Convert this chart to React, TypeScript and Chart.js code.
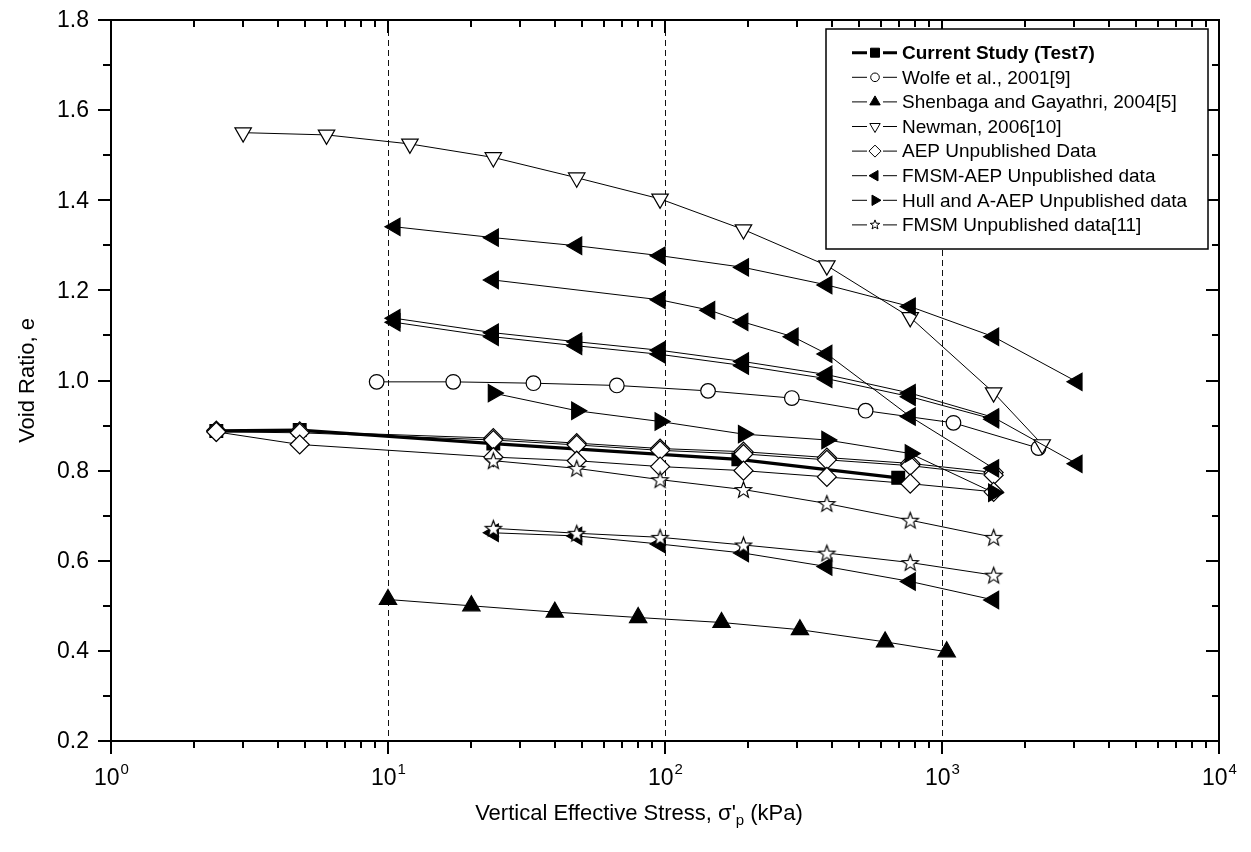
import React, { useEffect, useRef } from 'react';
import { Chart, registerables } from 'chart.js';
Chart.register(...registerables);

const FONT = '"Liberation Sans", Arial, Helvetica, sans-serif';

// ---- data ----
const currentX = [2.4, 4.8, 24, 184, 695];
const currentY = [0.888, 0.89, 0.86, 0.825, 0.784];

const wolfeX = [9.1, 17.2, 33.5, 67, 143, 287, 530, 1100, 2230];
const wolfeY = [0.997, 0.997, 0.994, 0.989, 0.977, 0.961, 0.933, 0.906, 0.85];

const shenbagaX = [10, 20, 40, 80, 160, 307, 623, 1040];
const shenbagaY = [0.514, 0.5, 0.486, 0.474, 0.463, 0.447, 0.42, 0.398];

const newmanX = [3, 6, 12, 24, 48, 96, 192, 384, 768, 1536, 2300];
const newmanY = [1.55, 1.545, 1.525, 1.495, 1.45, 1.403, 1.335, 1.255, 1.14, 0.973, 0.858];

const aepX = [2.4, 4.8, 24, 48, 96, 192, 384, 768, 1536];
const aepAY = [0.889, 0.887, 0.872, 0.861, 0.849, 0.842, 0.829, 0.816, 0.796];
const aepBY = [0.886, 0.884, 0.868, 0.857, 0.845, 0.837, 0.824, 0.811, 0.79];
const aepCY = [0.886, 0.858, 0.83, 0.822, 0.809, 0.8, 0.786, 0.771, 0.753];

const fmsmAepAX = [10.6, 24, 48, 96, 192, 384, 768, 1536, 3072];
const fmsmAepAY = [1.341, 1.317, 1.299, 1.277, 1.251, 1.212, 1.164, 1.097, 0.997];
const fmsmAepBX = [24, 96, 145, 191, 290, 384, 768, 1536];
const fmsmAepBY = [1.223, 1.179, 1.156, 1.13, 1.097, 1.059, 0.92, 0.805];
const fmsmAepCX = [10.6, 24, 48, 96, 192, 384, 768, 1536, 3072];
const fmsmAepCY = [1.138, 1.106, 1.086, 1.067, 1.042, 1.013, 0.972, 0.918, 0.815];
const fmsmAepDX = [10.6, 24, 48, 96, 192, 384, 768, 1536];
const fmsmAepDY = [1.129, 1.097, 1.077, 1.058, 1.033, 1.004, 0.964, 0.914];
const fmsmAepEX = [24, 48, 96, 192, 384, 768, 1536];
const fmsmAepEY = [0.662, 0.655, 0.637, 0.617, 0.587, 0.554, 0.513];

const hullX = [24, 48, 96, 192, 384, 768, 1536];
const hullY = [0.972, 0.933, 0.909, 0.881, 0.868, 0.838, 0.751];

const fmsmX = [24, 48, 96, 192, 384, 768, 1536];
const fmsmAY = [0.822, 0.805, 0.78, 0.758, 0.727, 0.69, 0.652];
const fmsmBY = [0.672, 0.661, 0.652, 0.635, 0.617, 0.596, 0.568];

// ---- axes ----
const xTickExps = [0, 1, 2, 3, 4];
const xGridLines = [10, 100, 1000];
const yTickValues = [0.2, 0.4, 0.6, 0.8, 1.0, 1.2, 1.4, 1.6, 1.8];
const yTickLabels = ['0.2', '0.4', '0.6', '0.8', '1.0', '1.2', '1.4', '1.6', '1.8'];
const yMinorValues = [0.3, 0.5, 0.7, 0.9, 1.1, 1.3, 1.5, 1.7];
const yTitle = 'Void Ratio, e';
const xTitleMain = "Vertical Effective Stress, \u03c3'";
const xTitleSub = 'p';
const xTitleEnd = ' (kPa)';

const legendLabels = [
  'Current Study (Test7)',
  'Wolfe et al., 2001[9]',
  'Shenbaga and Gayathri, 2004[5]',
  'Newman, 2006[10]',
  'AEP Unpublished Data',
  'FMSM-AEP Unpublished data',
  'Hull and A-AEP Unpublished data',
  'FMSM Unpublished data[11]',
];
const legendMarkers = ['square', 'circle', 'triUp', 'triDown', 'diamond', 'triLeft', 'triRight', 'star'];
const legendFilled = [true, false, true, false, false, true, true, false];

function starPath(ctx: CanvasRenderingContext2D, cx: number, cy: number, R: number, r: number) {
  ctx.beginPath();
  for (let i = 0; i < 10; i++) {
    const ang = -Math.PI / 2 + (i * Math.PI) / 5;
    const rr = i % 2 === 0 ? R : r;
    const px = cx + Math.cos(ang) * rr;
    const py = cy + Math.sin(ang) * rr;
    if (i === 0) ctx.moveTo(px, py);
    else ctx.lineTo(px, py);
  }
  ctx.closePath();
}

function makeStar(R: number, lw: number) {
  const c = document.createElement('canvas');
  const size = Math.ceil(2 * R + 4);
  c.width = size;
  c.height = size;
  const g = c.getContext('2d')!;
  starPath(g, size / 2, size / 2 + 0.8, R, R * 0.42);
  g.fillStyle = '#fff';
  g.fill();
  g.lineWidth = lw;
  g.strokeStyle = '#000';
  g.stroke();
  return c;
}

function drawMarker(ctx: CanvasRenderingContext2D, kind: string, x: number, y: number, r: number, filled: boolean) {
  const c30 = Math.cos(Math.PI / 6);
  ctx.beginPath();
  switch (kind) {
    case 'circle':
      ctx.arc(x, y, r, 0, Math.PI * 2);
      break;
    case 'square':
      ctx.rect(x - r, y - r, 2 * r, 2 * r);
      break;
    case 'diamond':
      ctx.moveTo(x - r, y); ctx.lineTo(x, y - r); ctx.lineTo(x + r, y); ctx.lineTo(x, y + r); ctx.closePath();
      break;
    case 'triUp':
      ctx.moveTo(x, y - r); ctx.lineTo(x + r * c30, y + r / 2); ctx.lineTo(x - r * c30, y + r / 2); ctx.closePath();
      break;
    case 'triDown':
      ctx.moveTo(x, y + r); ctx.lineTo(x + r * c30, y - r / 2); ctx.lineTo(x - r * c30, y - r / 2); ctx.closePath();
      break;
    case 'triLeft':
      ctx.moveTo(x - r, y); ctx.lineTo(x + r / 2, y - r * c30); ctx.lineTo(x + r / 2, y + r * c30); ctx.closePath();
      break;
    case 'triRight':
      ctx.moveTo(x + r, y); ctx.lineTo(x - r / 2, y - r * c30); ctx.lineTo(x - r / 2, y + r * c30); ctx.closePath();
      break;
    case 'star':
      starPath(ctx, x, y, r, r * 0.42);
      break;
  }
  ctx.fillStyle = filled ? '#000' : '#fff';
  ctx.fill();
  ctx.lineWidth = 1;
  ctx.strokeStyle = '#000';
  ctx.stroke();
}

const decoPlugin = {
  id: 'deco',
  beforeDatasetsDraw(chart: any) {
    const { ctx, chartArea: a } = chart;
    const xs = chart.scales.x;
    ctx.save();
    ctx.setLineDash([6, 4]);
    ctx.strokeStyle = '#111';
    ctx.lineWidth = 1;
    xGridLines.forEach((v) => {
      const px = Math.round(xs.getPixelForValue(v)) + 0.5;
      ctx.beginPath();
      ctx.moveTo(px, a.top);
      ctx.lineTo(px, a.bottom);
      ctx.stroke();
    });
    ctx.restore();
  },
  afterDraw(chart: any) {
    const { ctx, chartArea: a } = chart;
    const xs = chart.scales.x;
    const ys = chart.scales.y;
    ctx.save();
    ctx.strokeStyle = '#000';
    ctx.fillStyle = '#000';
    ctx.lineWidth = 2;
    ctx.strokeRect(a.left, a.top, a.right - a.left, a.bottom - a.top);

    const MAJ = 13;
    const MIN = 7;
    ctx.lineWidth = 2;
    ctx.beginPath();
    xTickExps.forEach((e) => {
      const px = Math.round(xs.getPixelForValue(Math.pow(10, e)));
      ctx.moveTo(px, a.bottom); ctx.lineTo(px, a.bottom + MAJ);
      ctx.moveTo(px, a.top); ctx.lineTo(px, a.top + MAJ);
    });
    for (let d = 0; d < 4; d++) {
      for (let m = 2; m <= 9; m++) {
        const px = Math.round(xs.getPixelForValue(m * Math.pow(10, d)));
        ctx.moveTo(px, a.bottom); ctx.lineTo(px, a.bottom + MIN);
        ctx.moveTo(px, a.top); ctx.lineTo(px, a.top + MIN);
      }
    }
    yTickValues.forEach((v) => {
      const py = Math.round(ys.getPixelForValue(v));
      ctx.moveTo(a.left - MAJ, py); ctx.lineTo(a.left, py);
      ctx.moveTo(a.right - MAJ, py); ctx.lineTo(a.right, py);
    });
    yMinorValues.forEach((v) => {
      const py = Math.round(ys.getPixelForValue(v));
      ctx.moveTo(a.left - 8, py); ctx.lineTo(a.left, py);
      ctx.moveTo(a.right - MIN, py); ctx.lineTo(a.right, py);
    });
    ctx.stroke();

    // y tick labels
    ctx.font = `23px ${FONT}`;
    ctx.textAlign = 'right';
    ctx.textBaseline = 'middle';
    yTickValues.forEach((v, i) => {
      ctx.fillText(yTickLabels[i], a.left - 22, ys.getPixelForValue(v) + 1);
    });

    // x tick labels with superscript
    ctx.textAlign = 'left';
    ctx.textBaseline = 'alphabetic';
    xTickExps.forEach((e) => {
      const px = xs.getPixelForValue(Math.pow(10, e));
      ctx.font = `23px ${FONT}`;
      const w1 = ctx.measureText('10').width;
      ctx.font = `15px ${FONT}`;
      const w2 = ctx.measureText(String(e)).width;
      const start = px - (w1 + w2) / 2;
      ctx.font = `23px ${FONT}`;
      ctx.fillText('10', start, a.bottom + 44);
      ctx.font = `15px ${FONT}`;
      ctx.fillText(String(e), start + w1 + 1, a.bottom + 33);
    });

    // x title
    ctx.font = `22px ${FONT}`;
    const wm = ctx.measureText(xTitleMain).width;
    const we = ctx.measureText(xTitleEnd).width;
    ctx.font = `15px ${FONT}`;
    const ws = ctx.measureText(xTitleSub).width;
    const total = wm + ws + we;
    const cx = (a.left + a.right) / 2 - 26;
    const sx = cx - total / 2;
    const by = a.bottom + 79;
    ctx.font = `22px ${FONT}`;
    ctx.fillText(xTitleMain, sx, by);
    ctx.font = `15px ${FONT}`;
    ctx.fillText(xTitleSub, sx + wm, by + 5);
    ctx.font = `22px ${FONT}`;
    ctx.fillText(xTitleEnd, sx + wm + ws, by);

    // y title
    ctx.save();
    ctx.translate(28, (a.top + a.bottom) / 2);
    ctx.rotate(-Math.PI / 2);
    ctx.textAlign = 'center';
    ctx.textBaseline = 'middle';
    ctx.font = `22px ${FONT}`;
    ctx.fillText(yTitle, 0, 0);
    ctx.restore();

    // legend
    const L = 826, T = 29, R = 1208, B = 249;
    ctx.fillStyle = '#fff';
    ctx.fillRect(L, T, R - L, B - T);
    ctx.lineWidth = 1.5;
    ctx.strokeStyle = '#000';
    ctx.strokeRect(L, T, R - L, B - T);
    legendLabels.forEach((lab, i) => {
      const yy = 52.7 + i * 24.6;
      const mx = 875;
      const lw = i === 0 ? 3 : 1;
      ctx.lineWidth = lw;
      ctx.strokeStyle = '#000';
      ctx.beginPath();
      ctx.moveTo(852, yy); ctx.lineTo(mx - 8, yy);
      ctx.moveTo(mx + 8, yy); ctx.lineTo(897, yy);
      ctx.stroke();
      const kind = legendMarkers[i];
      const r = kind === 'circle' ? 4.3 : kind === 'square' ? 4.5 : kind === 'star' ? 5 : 6;
      drawMarker(ctx, kind, mx, yy, r, legendFilled[i]);
      ctx.fillStyle = '#000';
      ctx.font = `${i === 0 ? 'bold ' : ''}19px ${FONT}`;
      ctx.textAlign = 'left';
      ctx.textBaseline = 'middle';
      ctx.fillText(lab, 902, yy + 1);
    });
    ctx.restore();
  },
};

function mk(label: string, xs: number[], ys: number[], opts: any) {
  return {
    label,
    data: xs.map((v, i) => ({ x: v, y: ys[i] })),
    showLine: true,
    borderColor: '#000',
    borderWidth: 1,
    pointBorderColor: '#000',
    pointBorderWidth: 1.2,
    pointHoverRadius: 0,
    ...opts,
  };
}

export default function App() {
  const ref = useRef<HTMLCanvasElement>(null);
  useEffect(() => {
    document.body.style.margin = '0';
    const star = makeStar(8.5, 1.2);
    const sq = { pointStyle: 'rect', pointRadius: 9, pointBackgroundColor: '#000' };
    const circ = { pointStyle: 'circle', pointRadius: 7.3, pointBackgroundColor: '#fff' };
    const up = { pointStyle: 'triangle', pointRadius: 10, pointBackgroundColor: '#000' };
    const down = { pointStyle: 'triangle', pointRotation: 180, pointRadius: 9.5, pointBackgroundColor: '#fff' };
    const dia = { pointStyle: 'rectRot', pointRadius: 9.5, pointBackgroundColor: '#fff' };
    const left = { pointStyle: 'triangle', pointRotation: -90, pointRadius: 10, pointBackgroundColor: '#000' };
    const right = { pointStyle: 'triangle', pointRotation: 90, pointRadius: 10, pointBackgroundColor: '#000' };
    const st = { pointStyle: star, pointRadius: 8.5, pointBackgroundColor: '#fff' };
    const sets = [
      mk(legendLabels[0], currentX, currentY, { ...sq, borderWidth: 3.2 }),
      mk(legendLabels[1], wolfeX, wolfeY, circ),
      mk(legendLabels[2], shenbagaX, shenbagaY, up),
      mk(legendLabels[3], newmanX, newmanY, down),
      mk(legendLabels[4], aepX, aepAY, dia),
      mk(legendLabels[4] + ' 2', aepX, aepBY, dia),
      mk(legendLabels[4] + ' 3', aepX, aepCY, dia),
      mk(legendLabels[5], fmsmAepAX, fmsmAepAY, left),
      mk(legendLabels[5] + ' 2', fmsmAepBX, fmsmAepBY, left),
      mk(legendLabels[5] + ' 3', fmsmAepCX, fmsmAepCY, left),
      mk(legendLabels[5] + ' 4', fmsmAepDX, fmsmAepDY, left),
      mk(legendLabels[5] + ' 5', fmsmAepEX, fmsmAepEY, left),
      mk(legendLabels[6], hullX, hullY, right),
      mk(legendLabels[7], fmsmX, fmsmAY, st),
      mk(legendLabels[7] + ' 2', fmsmX, fmsmBY, st),
    ].map((d, i) => ({ ...d, order: -i }));

    const chart = new Chart(ref.current!, {
      type: 'scatter',
      data: { datasets: sets as any },
      options: {
        responsive: false,
        animation: false,
        devicePixelRatio: 1,
        events: [],
        layout: { padding: { left: 111, right: 32, top: 20, bottom: 111 } },
        plugins: { legend: { display: false }, tooltip: { enabled: false } },
        scales: {
          x: { type: 'logarithmic', min: 1, max: 10000, display: false },
          y: { type: 'linear', min: 0.2, max: 1.8, display: false },
        },
      },
      plugins: [decoPlugin],
    });
    return () => chart.destroy();
  }, []);
  return (
    <div style={{ width: 1251, height: 852, background: '#fff' }}>
      <canvas ref={ref} width={1251} height={852} style={{ display: 'block' }} />
    </div>
  );
}
